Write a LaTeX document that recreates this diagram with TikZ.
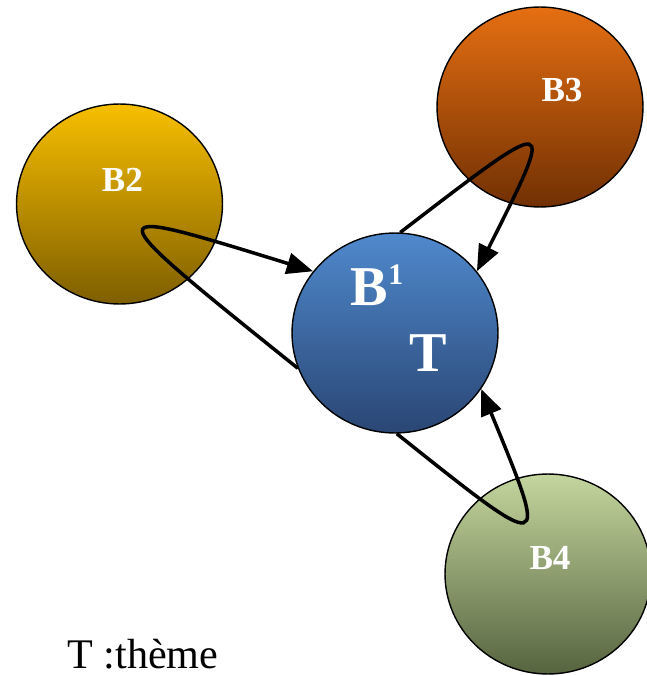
\documentclass[tikz,border=0pt]{standalone}
\usepackage{fontspec}
\setmainfont{Liberation Serif}
\usetikzlibrary{shapes.geometric,arrows.meta}

\definecolor{goldtop}{HTML}{F8BF00}
\definecolor{goldbot}{HTML}{7E5E00}
\definecolor{rusttop}{HTML}{E66F12}
\definecolor{rustbot}{HTML}{713003}
\definecolor{bluetop}{HTML}{4F89CD}
\definecolor{bluebot}{HTML}{2A4674}
\definecolor{sagetop}{HTML}{C4D69E}
\definecolor{sagebot}{HTML}{56643F}

\begin{document}
\begin{tikzpicture}[x=0.02cm,y=-0.02cm,
    ball/.style={ellipse,draw,line width=0.8pt,minimum width=4.12cm,minimum height=4cm,inner sep=0pt},
    lbl/.style={text=white,font=\bfseries\fontsize{20}{24}\selectfont,inner sep=0pt},
    big/.style={text=white,font=\bfseries\fontsize{32}{36}\selectfont,inner sep=0pt},
    loop/.style={line width=2pt,-{Triangle[length=15pt,width=12pt]}}]
  \useasboundingbox (0,0) rectangle (646,676);
  % the four balls
  \node[ball,top color=goldtop,bottom color=goldbot] (b2) at (119.5,204) {};
  \node[ball,top color=rusttop,bottom color=rustbot] (b3) at (540,107) {};
  \node[ball,top color=sagetop,bottom color=sagebot] (b4) at (548,574) {};
  \node[ball,top color=bluetop,bottom color=bluebot] (b1) at (395,333) {};
  \node[lbl] (t2) at (122.5,180) {B2};
  \node[lbl] (t3) at (562,90) {B3};
  \node[lbl] (t4) at (550,558) {B4};
  \node[big] (t1) at (377,285) {B\raisebox{12pt}{\fontsize{17}{17}\selectfont 1}};
  \node[big] (tt) at (428,353.5) {T};
  % loops
  \draw[loop] (b1.200) .. controls (92,203) .. (b1.143);
  \draw[loop] (b1.87) .. controls (557,112) .. (b1.37);
  \draw[loop] (b1.-89) .. controls (550,556) .. (b1.-33);
  \node[anchor=base west,inner sep=0pt,font=\fontsize{24}{28}\selectfont] (key) at (67,668) {T :thème};
\end{tikzpicture}
\end{document}
